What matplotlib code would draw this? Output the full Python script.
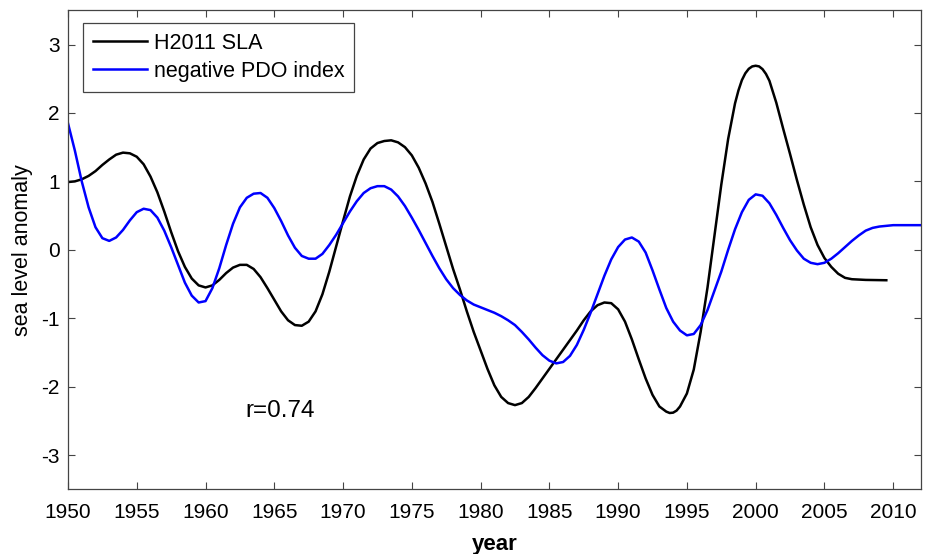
import numpy as np
import matplotlib.pyplot as plt

plt.rcParams['font.family'] = ['Liberation Sans', 'DejaVu Sans']
plt.rcParams['axes.unicode_minus'] = False

# H2011 sea level anomaly (smoothed)
sla_year = [1950.0, 1950.5, 1951.0, 1951.5, 1952.0, 1952.5, 1953.0, 1953.5, 1954.0, 1954.5,
            1955.0, 1955.5, 1956.0, 1956.5, 1957.0, 1957.5, 1958.0, 1958.5, 1959.0, 1959.5,
            1960.0, 1960.5, 1961.0, 1961.5, 1962.0, 1962.5, 1963.0, 1963.5, 1964.0, 1964.5,
            1965.0, 1965.5, 1966.0, 1966.5, 1967.0, 1967.5, 1968.0, 1968.5, 1969.0, 1969.5,
            1970.0, 1970.5, 1971.0, 1971.5, 1972.0, 1972.5, 1973.0, 1973.5, 1974.0, 1974.5,
            1975.0, 1975.5, 1976.0, 1976.5, 1977.0, 1977.5, 1978.0, 1978.5, 1979.0, 1979.5,
            1980.0, 1980.5, 1981.0, 1981.5, 1982.0, 1982.5, 1983.0, 1983.5, 1984.0, 1984.5,
            1985.0, 1985.5, 1986.0, 1986.5, 1987.0, 1987.5, 1988.0, 1988.5, 1989.0, 1989.5,
            1990.0, 1990.5, 1991.0, 1991.5, 1992.0, 1992.5, 1993.0, 1993.5, 1993.75, 1994.0,
            1994.25, 1994.5, 1995.0, 1995.5, 1996.0, 1996.5, 1997.0, 1997.5, 1998.0, 1998.5,
            1998.75, 1999.0, 1999.25, 1999.5, 1999.75, 2000.0, 2000.25, 2000.5, 2000.75, 2001.0,
            2001.5, 2002.0, 2002.5, 2003.0, 2003.5, 2004.0, 2004.5, 2005.0, 2005.5, 2006.0,
            2006.5, 2007.0, 2008.0, 2009.5]
sla = [0.99, 1.00, 1.03, 1.08, 1.15, 1.24, 1.32, 1.39, 1.42, 1.41,
       1.36, 1.25, 1.07, 0.84, 0.56, 0.26, -0.02, -0.25, -0.42, -0.52,
       -0.55, -0.52, -0.44, -0.34, -0.26, -0.22, -0.22, -0.28, -0.40, -0.56,
       -0.73, -0.90, -1.03, -1.10, -1.11, -1.05, -0.90, -0.65, -0.32, 0.05,
       0.42, 0.78, 1.08, 1.32, 1.48, 1.56, 1.59, 1.60, 1.57, 1.50,
       1.38, 1.20, 0.97, 0.70, 0.38, 0.05, -0.28, -0.58, -0.90, -1.20,
       -1.47, -1.74, -1.98, -2.15, -2.24, -2.27, -2.24, -2.15, -2.02, -1.88,
       -1.74, -1.60, -1.46, -1.32, -1.18, -1.03, -0.90, -0.81, -0.77, -0.78,
       -0.87, -1.05, -1.31, -1.60, -1.88, -2.12, -2.29, -2.365, -2.385, -2.38,
       -2.35, -2.29, -2.10, -1.75, -1.20, -0.55, 0.20, 0.95, 1.62, 2.14,
       2.33, 2.48, 2.58, 2.645, 2.68, 2.69, 2.68, 2.64, 2.57, 2.47,
       2.15, 1.77, 1.40, 1.02, 0.66, 0.33, 0.07, -0.12, -0.25, -0.35,
       -0.41, -0.43, -0.44, -0.445]

# negative PDO index (smoothed)
pdo_year = [1950.0, 1950.5, 1951.0, 1951.5, 1952.0, 1952.5, 1953.0, 1953.5, 1954.0, 1954.5,
            1955.0, 1955.5, 1956.0, 1956.5, 1957.0, 1957.5, 1958.0, 1958.5, 1959.0, 1959.5,
            1960.0, 1960.5, 1961.0, 1961.5, 1962.0, 1962.5, 1963.0, 1963.5, 1964.0, 1964.5,
            1965.0, 1965.5, 1966.0, 1966.5, 1967.0, 1967.5, 1968.0, 1968.5, 1969.0, 1969.5,
            1970.0, 1970.5, 1971.0, 1971.5, 1972.0, 1972.5, 1973.0, 1973.5, 1974.0, 1974.5,
            1975.0, 1975.5, 1976.0, 1976.5, 1977.0, 1977.5, 1978.0, 1978.5, 1979.0, 1979.5,
            1980.0, 1980.5, 1981.0, 1981.5, 1982.0, 1982.5, 1983.0, 1983.5, 1984.0, 1984.5,
            1985.0, 1985.5, 1986.0, 1986.5, 1987.0, 1987.5, 1988.0, 1988.5, 1989.0, 1989.5,
            1990.0, 1990.5, 1991.0, 1991.5, 1992.0, 1992.5, 1993.0, 1993.5, 1994.0, 1994.5,
            1995.0, 1995.5, 1996.0, 1996.5, 1997.0, 1997.5, 1998.0, 1998.5, 1999.0, 1999.5,
            2000.0, 2000.5, 2001.0, 2001.5, 2002.0, 2002.5, 2003.0, 2003.5, 2004.0, 2004.5,
            2005.0, 2005.5, 2006.0, 2006.5, 2007.0, 2007.5, 2008.0, 2008.5, 2009.0, 2009.5,
            2010.0, 2011.0, 2012.0]
pdo = [1.85, 1.45, 1.00, 0.62, 0.33, 0.17, 0.13, 0.18, 0.29, 0.43,
       0.55, 0.60, 0.58, 0.47, 0.28, 0.04, -0.22, -0.48, -0.67, -0.77,
       -0.75, -0.56, -0.27, 0.07, 0.38, 0.62, 0.76, 0.82, 0.83, 0.76,
       0.61, 0.42, 0.21, 0.03, -0.09, -0.13, -0.13, -0.06, 0.07, 0.22,
       0.39, 0.56, 0.71, 0.83, 0.90, 0.93, 0.93, 0.88, 0.78, 0.64,
       0.47, 0.29, 0.10, -0.09, -0.27, -0.43, -0.56, -0.66, -0.74, -0.80,
       -0.84, -0.88, -0.92, -0.97, -1.03, -1.10, -1.20, -1.31, -1.43, -1.54,
       -1.62, -1.66, -1.64, -1.55, -1.39, -1.17, -0.92, -0.65, -0.38, -0.14,
       0.04, 0.15, 0.18, 0.12, -0.04, -0.30, -0.58, -0.85, -1.05, -1.18,
       -1.25, -1.23, -1.10, -0.88, -0.60, -0.32, 0.00, 0.30, 0.55, 0.73,
       0.81, 0.79, 0.68, 0.51, 0.32, 0.14, -0.01, -0.13, -0.19, -0.21,
       -0.19, -0.13, -0.05, 0.04, 0.13, 0.21, 0.28, 0.32, 0.34, 0.35,
       0.36, 0.36, 0.36]

corr_label = 'r=0.74'

fig = plt.figure(figsize=(9.3, 5.54), dpi=100)
ax = fig.add_axes([0.0731, 0.1168, 0.9169, 0.8646])

ax.plot(sla_year, sla, color='black', lw=1.8, label='H2011 SLA')
ax.plot(pdo_year, pdo, color='#0000ff', lw=1.8, label='negative PDO index')

ax.set_xlim(1950, 2012)
ax.set_ylim(-3.5, 3.5)
ax.set_xticks(np.arange(1950, 2011, 5))
ax.set_yticks(np.arange(-3, 4, 1))

ax.tick_params(direction='in', top=True, right=True, length=5, width=0.8,
               labelsize=15, color='#444444')
ax.tick_params(axis='x', pad=10)
ax.tick_params(axis='y', pad=6)
for sp in ax.spines.values():
    sp.set_color('#444444')
    sp.set_linewidth(0.9)

ax.set_xlabel('year', fontsize=16, fontweight='bold')
ax.xaxis.set_label_coords(0.5, -0.1257)
ax.xaxis.label.set_va('baseline')
ax.set_ylabel('sea level anomaly', fontsize=15.5)
ax.yaxis.set_label_coords(-0.0534, 0.5)
ax.yaxis.label.set_va('center')

ax.text(1962.9, -2.35, corr_label, fontsize=17.5, va='center', ha='left')

leg = ax.legend(loc='upper left', bbox_to_anchor=(0.018, 0.973), fontsize=15.5,
                fancybox=False, framealpha=1, edgecolor='#444444',
                handlelength=2.5, handletextpad=0.33, borderpad=0.45,
                labelspacing=0.32, borderaxespad=0)
leg.get_frame().set_linewidth(0.9)

fig.savefig('out.png', dpi=100)
